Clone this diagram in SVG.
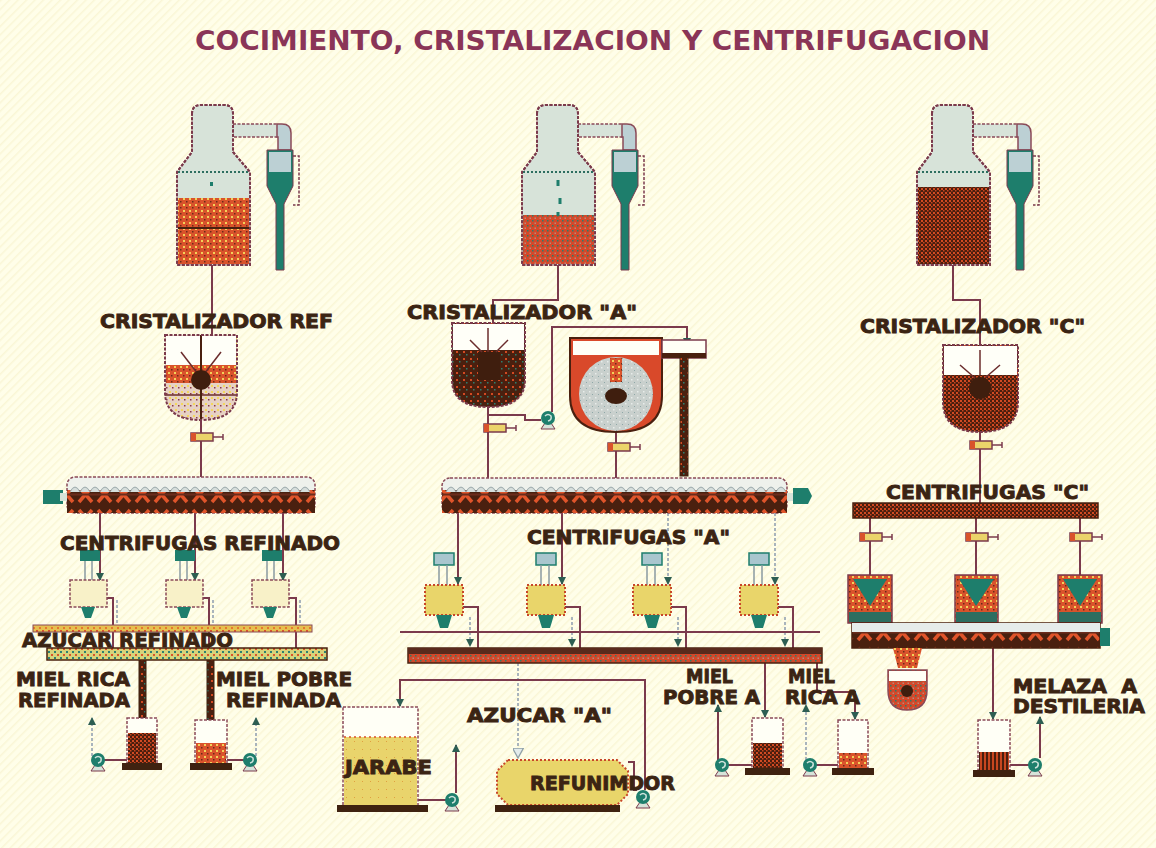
<svg xmlns="http://www.w3.org/2000/svg" width="1156" height="848" viewBox="0 0 1156 848">
  <style>
    .lbl { font-family: "DejaVu Sans", "Liberation Sans", sans-serif; font-weight: bold; font-size: 19px; fill: #3B2413; stroke: #3B2413; stroke-width: 0.9; }
    .title { font-family: "DejaVu Sans", "Liberation Sans", sans-serif; font-weight: bold; font-size: 27px; fill: #8A3557; }
    .pipe { fill: none; stroke: #7B3A4C; stroke-width: 2; }
    .pipe-light { fill: none; stroke: #A9B4BC; stroke-width: 2; stroke-dasharray: 3 2; }
    .shell { fill: #D7E3D9; stroke: #8A4A58; stroke-width: 2; stroke-dasharray: 3 1.5; }
    .outline { fill: none; stroke: #7B3A4C; stroke-width: 2; stroke-dasharray: 3 1.5; }
    .teal { fill: #1E7E6C; }
    .dark { fill: #44210F; }
    .base { fill: #3F2210; }
  </style>
  <defs>
    <pattern id="bg-hatch" width="6" height="6" patternUnits="userSpaceOnUse" patternTransform="rotate(45)">
      <rect width="6" height="6" fill="#FFFEE9"/>
      <rect width="1.5" height="6" fill="#FAF6D6"/>
    </pattern>
    <pattern id="p-orange-dots" width="6" height="6" patternUnits="userSpaceOnUse">
      <rect width="6" height="6" fill="#D9532B"/>
      <rect x="0" y="0" width="2" height="2" fill="#F2D25A"/>
      <rect x="3" y="3" width="1.5" height="1.5" fill="#6B2A18"/>
    </pattern>
    <pattern id="p-red-dots" width="5" height="5" patternUnits="userSpaceOnUse">
      <rect width="5" height="5" fill="#D4482A"/>
      <rect x="0" y="0" width="1.5" height="1.5" fill="#2F7B6A"/>
      <rect x="2.5" y="2.5" width="1.5" height="1.5" fill="#B58A7A"/>
    </pattern>
    <pattern id="p-dark-check" width="4" height="4" patternUnits="userSpaceOnUse">
      <rect width="4" height="4" fill="#4A1E0E"/>
      <rect x="0" y="0" width="2" height="2" fill="#D24A22"/>
      <rect x="2" y="2" width="1.5" height="1.5" fill="#C8461F"/>
    </pattern>
    <pattern id="p-brown-dots" width="7" height="7" patternUnits="userSpaceOnUse">
      <rect width="7" height="7" fill="#4A200F"/>
      <rect x="1" y="1" width="2" height="2" fill="#D24A22"/>
      <rect x="4" y="4" width="1.5" height="1.5" fill="#2D8070"/>
    </pattern>
    <pattern id="p-light-dots" width="6" height="6" patternUnits="userSpaceOnUse">
      <rect width="6" height="6" fill="#C9D0CD"/>
      <rect x="1" y="1" width="1.5" height="1.5" fill="#E8ECEA"/>
      <rect x="4" y="4" width="1" height="1" fill="#8FA8A8"/>
    </pattern>
    <pattern id="p-cream-dots" width="6" height="6" patternUnits="userSpaceOnUse">
      <rect width="6" height="6" fill="#E7D2C4"/>
      <rect x="1" y="1" width="2" height="2" fill="#F3D75C"/>
      <rect x="4" y="3" width="1.5" height="1.5" fill="#8A3A4A"/>
    </pattern>
    <pattern id="p-mixer" width="19" height="23" patternUnits="userSpaceOnUse">
      <rect width="19" height="23" fill="#4A200F"/>
      <path d="M3,4 L9.5,11.5 L3,19 M16,4 L9.5,11.5 L16,19" stroke="#E0542A" stroke-width="3.5" fill="none"/>
      <rect x="0" y="10.5" width="19" height="2" fill="#6B2C1C"/>
    </pattern>
    <pattern id="p-belt-y" width="6" height="7" patternUnits="userSpaceOnUse">
      <rect width="6" height="7" fill="#E6C050"/>
      <rect x="0" y="0" width="2" height="2" fill="#D9532B"/>
      <rect x="3" y="4" width="2" height="2" fill="#E6782E"/>
    </pattern>
    <pattern id="p-belt-g" width="6" height="6" patternUnits="userSpaceOnUse">
      <rect width="6" height="6" fill="#D8D27A"/>
      <rect x="0" y="3" width="2" height="2" fill="#2D8070"/>
      <rect x="3" y="0" width="2" height="2" fill="#D9532B"/>
    </pattern>
    <pattern id="p-stripes" width="4" height="6" patternUnits="userSpaceOnUse">
      <rect width="4" height="6" fill="#4A1E0E"/>
      <rect x="0" y="0" width="2" height="6" fill="#C8461F"/>
    </pattern>
    <pattern id="p-yellow" width="8" height="8" patternUnits="userSpaceOnUse">
      <rect width="8" height="8" fill="#E9D46C"/>
      <rect x="2" y="5" width="1" height="1" fill="#E0A040"/>
    </pattern>
    <marker id="arr" viewBox="0 0 8 8" markerWidth="8" markerHeight="8" refX="7" refY="4" orient="auto" markerUnits="userSpaceOnUse">
      <path d="M0,0 L8,4 L0,8 Z" fill="#2D5E52"/>
    </marker>
    <marker id="arr-hollow" viewBox="0 0 10 10" markerWidth="11" markerHeight="11" refX="9" refY="5" orient="auto" markerUnits="userSpaceOnUse">
      <path d="M0,0 L9,5 L0,10 Z" fill="#E4ECEC" stroke="#8FA0A8" stroke-width="1.2"/>
    </marker>
    <!-- reusable pump: teal volute on a small stand -->
    <g id="pump">
      <path d="M-7,11 L7,11 L3,5 L-3,5 Z" fill="#D7E3D9" stroke="#7B3A4C" stroke-width="1"/>
      <circle r="7" fill="#1E7E6C"/>
      <path d="M-3,-2 Q0,-5 3,-2 Q4,2 0,3" fill="none" stroke="#CFE3DC" stroke-width="1.5"/>
    </g>
    <!-- reusable in-line valve with handle -->
    <g id="valve">
      <rect x="-12" y="-4" width="22" height="8" fill="#EBD46A" stroke="#7B3A4C" stroke-width="1.5"/>
      <rect x="-12" y="-4" width="5" height="8" fill="#D9532B"/>
      <line x1="10" y1="0" x2="20" y2="0" stroke="#7B3A4C" stroke-width="1.5"/>
      <line x1="20" y1="-3" x2="20" y2="3" stroke="#7B3A4C" stroke-width="1.5"/>
    </g>
    <!-- vacuum pan shell with condenser and cyclone separator -->
    <path id="pan-shape" d="M15,114 Q15,105 24,105 L47,105 Q56,105 56,114 L56,152 L73,172 L73,265 L0,265 L0,172 L15,152 Z"/>
    <g id="pan-cyclone">
      <rect x="56" y="124" width="45" height="13" fill="#D7E3D9" stroke="#8A4A58" stroke-width="1.5" stroke-dasharray="3 1.5"/>
      <path d="M100,124 L105,124 Q114,124 114,133 L114,150 L101,150 L101,137 L100,137 Z" fill="#BCD0D4" stroke="#8A4A58" stroke-width="1.5"/>
      <path d="M90,150 L116,150 L116,186 L107,204 L107,270 L99,270 L99,204 L90,186 Z" fill="#1E7E6C" stroke="#7B3A4C" stroke-width="1"/>
      <rect x="92" y="152" width="22" height="20" fill="#BCD0D4"/>
      <polyline points="116,156 122,156 122,205 116,205" fill="none" stroke="#7B3A4C" stroke-width="1.5" stroke-dasharray="3 1.5"/>
    </g>
  </defs>

  <rect width="1156" height="848" fill="url(#bg-hatch)"/>

  <text class="title" x="195" y="50" textLength="795" lengthAdjust="spacingAndGlyphs">COCIMIENTO, CRISTALIZACION Y CENTRIFUGACION</text>

  <!-- ===== connectors ===== -->
  <g id="connectors">
    <!-- pan discharges -->
    <polyline class="pipe" points="212,265 212,335"/>
    <polyline class="pipe" points="558,265 558,300 493,300 493,323"/>
    <polyline class="pipe" points="953,263 953,300 980,300 980,345"/>
    <!-- crystallizer discharges to mixers -->
    <polyline class="pipe" points="201,420 201,477"/>
    <polyline class="pipe" points="488,407 488,478"/>
    <polyline class="pipe" points="616,432 616,478"/>
    <polyline class="pipe" points="980,432 980,503"/>
    <!-- crystallizer A transfer pump loop -->
    <polyline class="pipe" points="488,415 525,415 525,420 541,420"/>
    <polyline class="pipe" points="552,412 552,327 687,327 687,345" marker-end="url(#arr)"/>
    <!-- REF mixer feeds to centrifuges -->
    <line class="pipe" x1="100" y1="513" x2="100" y2="580" marker-end="url(#arr)"/>
    <line class="pipe" x1="195" y1="513" x2="195" y2="580" marker-end="url(#arr)"/>
    <line class="pipe" x1="283" y1="513" x2="283" y2="580" marker-end="url(#arr)"/>
    <!-- REF centrifuge discharges -->
    <polyline class="pipe" points="107,598 113,598 113,648"/>
    <polyline class="pipe-light" points="117,600 117,625"/>
    <polyline class="pipe" points="203,598 209,598 209,648"/>
    <polyline class="pipe-light" points="213,600 213,625"/>
    <polyline class="pipe" points="289,598 296,598 296,648"/>
    <polyline class="pipe-light" points="300,600 300,625"/>
    <!-- REF honey drops to tanks -->
    <rect x="139" y="660" width="7" height="76" fill="url(#p-brown-dots)" stroke="#3F2210" stroke-width="1"/>
    <rect x="207" y="660" width="7" height="84" fill="url(#p-brown-dots)" stroke="#3F2210" stroke-width="1"/>
    <!-- REF tank pumps -->
    <line class="pipe" x1="127" y1="760" x2="104" y2="760"/>
    <polyline class="pipe-light" points="92,756 92,718" marker-end="url(#arr)"/>
    <line class="pipe" x1="227" y1="760" x2="244" y2="760"/>
    <polyline class="pipe-light" points="256,756 256,718" marker-end="url(#arr)"/>

    <!-- A mixer feeds to centrifuges -->
    <line class="pipe" x1="458" y1="513" x2="458" y2="584" marker-end="url(#arr)"/>
    <line class="pipe" x1="562" y1="513" x2="562" y2="584" marker-end="url(#arr)"/>
    <line class="pipe-light" x1="668" y1="513" x2="668" y2="584" marker-end="url(#arr)"/>
    <line class="pipe-light" x1="775" y1="513" x2="775" y2="584" marker-end="url(#arr)"/>
    <!-- A centrifuge discharges -->
    <polyline class="pipe" points="463,607 478,607 478,648"/>
    <line class="pipe-light" x1="470" y1="617" x2="470" y2="646" marker-end="url(#arr)"/>
    <polyline class="pipe" points="565,607 580,607 580,648"/>
    <line class="pipe-light" x1="572" y1="617" x2="572" y2="646" marker-end="url(#arr)"/>
    <polyline class="pipe" points="671,607 686,607 686,648"/>
    <line class="pipe-light" x1="678" y1="617" x2="678" y2="646" marker-end="url(#arr)"/>
    <polyline class="pipe" points="778,607 793,607 793,648"/>
    <line class="pipe-light" x1="785" y1="617" x2="785" y2="646" marker-end="url(#arr)"/>
    <line class="pipe" x1="400" y1="632" x2="820" y2="632"/>
    <!-- A sugar to melter -->
    <line class="pipe-light" x1="518" y1="663" x2="518" y2="758" marker-end="url(#arr-hollow)"/>
    <!-- melter pump to syrup tank -->
    <polyline class="pipe" points="628,762 634,762 634,790 637,790"/>
    <polyline class="pipe" points="645,790 645,680 400,680 400,706" marker-end="url(#arr)"/>
    <!-- syrup pump -->
    <line class="pipe" x1="418" y1="800" x2="446" y2="800"/>
    <polyline class="pipe" points="456,793 456,745" marker-end="url(#arr)"/>
    <!-- A honeys -->
    <line class="pipe" x1="765" y1="663" x2="765" y2="717" marker-end="url(#arr)"/>
    <polyline class="pipe" points="817,663 817,692 855,692 855,719" marker-end="url(#arr)"/>
    <line class="pipe" x1="752" y1="765" x2="728" y2="765"/>
    <polyline class="pipe" points="718,760 718,705" marker-end="url(#arr)"/>
    <line class="pipe" x1="838" y1="765" x2="816" y2="765"/>
    <polyline class="pipe-light" points="806,760 806,705" marker-end="url(#arr)"/>

    <!-- C header to centrifuges -->
    <line class="pipe" x1="870" y1="518" x2="870" y2="576"/>
    <line class="pipe" x1="976" y1="518" x2="976" y2="576"/>
    <line class="pipe" x1="1080" y1="518" x2="1080" y2="576"/>
    <!-- molasses -->
    <line class="pipe" x1="993" y1="648" x2="993" y2="719" marker-end="url(#arr)"/>
    <line class="pipe" x1="1010" y1="765" x2="1029" y2="765"/>
    <polyline class="pipe" points="1040,758 1040,717" marker-end="url(#arr)"/>
  </g>

  <!-- ===== vacuum pans ===== -->
  <g id="pan-ref" transform="translate(177,0)">
    <use href="#pan-cyclone"/>
    <use href="#pan-shape" class="shell"/>
    <rect x="1" y="198" width="71" height="66" fill="url(#p-orange-dots)"/>
    <line x1="1" y1="228" x2="72" y2="228" stroke="#4A200F" stroke-width="2"/>
    <line x1="1" y1="172" x2="72" y2="172" stroke="#2D6E60" stroke-width="2" stroke-dasharray="2 2"/>
    <rect x="33" y="182" width="3" height="4" fill="#1E7E6C"/>
    <use href="#pan-shape" class="outline"/>
  </g>
  <g id="pan-a" transform="translate(522,0)">
    <use href="#pan-cyclone"/>
    <use href="#pan-shape" class="shell"/>
    <rect x="1" y="215" width="71" height="49" fill="url(#p-red-dots)"/>
    <line x1="1" y1="172" x2="72" y2="172" stroke="#2D6E60" stroke-width="2" stroke-dasharray="2 2"/>
    <path d="M36,180 l0,6 M38,198 l0,6 M36,212 l0,4" stroke="#1E7E6C" stroke-width="3"/>
    <use href="#pan-shape" class="outline"/>
  </g>
  <g id="pan-c" transform="translate(917,0)">
    <use href="#pan-cyclone"/>
    <use href="#pan-shape" class="shell"/>
    <rect x="1" y="187" width="71" height="77" fill="url(#p-dark-check)"/>
    <line x1="1" y1="172" x2="72" y2="172" stroke="#2D6E60" stroke-width="2" stroke-dasharray="2 2"/>
    <use href="#pan-shape" class="outline"/>
  </g>

  <!-- ===== crystallizers ===== -->
  <g id="cristalizador-ref">
    <path d="M165,335 L237,335 L237,392 Q237,420 201,420 Q165,420 165,392 Z" fill="url(#p-cream-dots)"/>
    <rect x="166" y="336" width="70" height="29" fill="#FFFFF8"/>
    <rect x="166" y="365" width="70" height="18" fill="url(#p-orange-dots)"/>
    <line x1="165" y1="395" x2="237" y2="395" stroke="#6B2C2C" stroke-width="1.5"/>
    <line x1="201" y1="335" x2="201" y2="420" stroke="#4A200F" stroke-width="2"/>
    <line x1="181" y1="352" x2="201" y2="378" stroke="#6B2C2C" stroke-width="1.5"/>
    <line x1="221" y1="352" x2="201" y2="378" stroke="#6B2C2C" stroke-width="1.5"/>
    <circle cx="201" cy="380" r="10" fill="#3F1E0E"/>
    <path d="M165,335 L237,335 L237,392 Q237,420 201,420 Q165,420 165,392 Z" class="outline"/>
    <use href="#valve" x="203" y="437"/>
  </g>
  <text class="lbl" x="100" y="328" textLength="233" lengthAdjust="spacingAndGlyphs">CRISTALIZADOR REF</text>

  <g id="cristalizador-a">
    <path d="M452,323 L525,323 L525,380 Q525,407 488,407 Q452,407 452,380 Z" fill="url(#p-brown-dots)"/>
    <rect x="453" y="324" width="71" height="26" fill="#FFFFF8"/>
    <rect x="478" y="352" width="22" height="28" fill="#3F1E0E"/>
    <line x1="488" y1="328" x2="488" y2="352" stroke="#6B2C2C" stroke-width="1.5"/>
    <line x1="470" y1="340" x2="482" y2="352" stroke="#6B2C2C" stroke-width="1.5"/>
    <line x1="508" y1="340" x2="496" y2="352" stroke="#6B2C2C" stroke-width="1.5"/>
    <path d="M452,323 L525,323 L525,380 Q525,407 488,407 Q452,407 452,380 Z" class="outline"/>
    <use href="#valve" x="496" y="428"/>
    <use href="#pump" x="548" y="418"/>
  </g>
  <text class="lbl" x="407" y="319" textLength="230" lengthAdjust="spacingAndGlyphs">CRISTALIZADOR "A"</text>

  <g id="receptor-a">
    <path d="M570,338 L662,338 L662,396 Q662,432 616,432 Q570,432 570,396 Z" fill="#D9492A" stroke="#4A200F" stroke-width="2"/>
    <rect x="573" y="341" width="86" height="14" fill="#FFFFF6"/>
    <circle cx="616" cy="394" r="37" fill="url(#p-light-dots)"/>
    <rect x="610" y="358" width="12" height="24" fill="url(#p-orange-dots)"/>
    <ellipse cx="616" cy="396" rx="11" ry="8" fill="#3F1E0E"/>
    <rect x="662" y="340" width="44" height="18" fill="#FFFFF6" stroke="#7B3A4C" stroke-width="1.5"/>
    <rect x="662" y="353" width="44" height="5" fill="#4A200F"/>
    <rect x="680" y="356" width="8" height="120" fill="url(#p-brown-dots)" stroke="#3F2210" stroke-width="1"/>
    <use href="#valve" x="620" y="447"/>
  </g>

  <g id="cristalizador-c">
    <path d="M943,345 L1018,345 L1018,402 Q1018,432 980,432 Q943,432 943,402 Z" fill="url(#p-dark-check)"/>
    <rect x="944" y="346" width="73" height="29" fill="#FFFFF8"/>
    <line x1="980" y1="350" x2="980" y2="375" stroke="#6B2C2C" stroke-width="1.5"/>
    <line x1="960" y1="365" x2="975" y2="378" stroke="#6B2C2C" stroke-width="1.5"/>
    <line x1="1000" y1="365" x2="985" y2="378" stroke="#6B2C2C" stroke-width="1.5"/>
    <circle cx="980" cy="388" r="11" fill="#3F1E0E"/>
    <path d="M943,345 L1018,345 L1018,402 Q1018,432 980,432 Q943,432 943,402 Z" class="outline"/>
    <use href="#valve" x="982" y="445"/>
  </g>
  <text class="lbl" x="860" y="333" textLength="225" lengthAdjust="spacingAndGlyphs">CRISTALIZADOR "C"</text>

  <!-- ===== mixers (seed troughs) ===== -->
  <g id="mezclador-ref">
    <rect x="67" y="477" width="248" height="36" rx="8" fill="#EEF1EC" stroke="#8A4A58" stroke-width="1.5" stroke-dasharray="3 1.5"/>
    <rect x="67" y="490" width="248" height="23" fill="url(#p-mixer)"/>
    <path d="M70,492 q5,-10 10,0 q5,-10 10,0 q5,-10 10,0 q5,-10 10,0 q5,-10 10,0 q5,-10 10,0 q5,-10 10,0 q5,-10 10,0 q5,-10 10,0 q5,-10 10,0 q5,-10 10,0 q5,-10 10,0 q5,-10 10,0 q5,-10 10,0 q5,-10 10,0 q5,-10 10,0 q5,-10 10,0 q5,-10 10,0 q5,-10 10,0 q5,-10 10,0 q5,-10 10,0 q5,-10 10,0 q5,-10 10,0 q5,-10 10,0" fill="#D6DEDC" stroke="#9AA8AA" stroke-width="1"/>
    <rect x="43" y="490" width="20" height="14" fill="#1E7E6C"/>
    <rect x="60" y="493" width="7" height="8" fill="#D7E3D9"/>
  </g>
  <g id="mezclador-a">
    <rect x="442" y="478" width="345" height="35" rx="8" fill="#EEF1EC" stroke="#8A4A58" stroke-width="1.5" stroke-dasharray="3 1.5"/>
    <rect x="442" y="490" width="345" height="23" fill="url(#p-mixer)"/>
    <path d="M446,492 q5,-10 10,0 q5,-10 10,0 q5,-10 10,0 q5,-10 10,0 q5,-10 10,0 q5,-10 10,0 q5,-10 10,0 q5,-10 10,0 q5,-10 10,0 q5,-10 10,0 q5,-10 10,0 q5,-10 10,0 q5,-10 10,0 q5,-10 10,0 q5,-10 10,0 q5,-10 10,0 q5,-10 10,0 q5,-10 10,0 q5,-10 10,0 q5,-10 10,0 q5,-10 10,0 q5,-10 10,0 q5,-10 10,0 q5,-10 10,0 q5,-10 10,0 q5,-10 10,0 q5,-10 10,0 q5,-10 10,0 q5,-10 10,0 q5,-10 10,0 q5,-10 10,0 q5,-10 10,0 q5,-10 10,0 q5,-10 10,0" fill="#D6DEDC" stroke="#9AA8AA" stroke-width="1"/>
    <rect x="787" y="493" width="7" height="8" fill="#D7E3D9"/>
    <path d="M793,488 L808,488 L812,496 L808,504 L793,504 Z" fill="#1E7E6C"/>
  </g>
  <g id="cabezal-c">
    <rect x="853" y="503" width="245" height="15" fill="url(#p-dark-check)" stroke="#4A200F" stroke-width="1.5"/>
  </g>

  <!-- ===== refined centrifuges ===== -->
  <g id="centrifugas-ref">
    <g id="centrifuga-ref-1">
      <rect x="80" y="550" width="20" height="11" fill="#1E7E6C"/>
      <line x1="85" y1="561" x2="85" y2="580" stroke="#8A9AA0" stroke-width="1.5"/>
      <line x1="92" y1="561" x2="92" y2="580" stroke="#8A9AA0" stroke-width="1.5"/>
      <rect x="70" y="580" width="37" height="27" fill="#F8F1C8" stroke="#8A4A58" stroke-width="1.5" stroke-dasharray="3 1.5"/>
      <path d="M81,607 L95,607 L91,618 L85,618 Z" fill="#1E7E6C"/>
    </g>
    <g id="centrifuga-ref-2">
      <rect x="175" y="550" width="20" height="11" fill="#1E7E6C"/>
      <line x1="180" y1="561" x2="180" y2="580" stroke="#8A9AA0" stroke-width="1.5"/>
      <line x1="187" y1="561" x2="187" y2="580" stroke="#8A9AA0" stroke-width="1.5"/>
      <rect x="166" y="580" width="37" height="27" fill="#F8F1C8" stroke="#8A4A58" stroke-width="1.5" stroke-dasharray="3 1.5"/>
      <path d="M177,607 L191,607 L187,618 L181,618 Z" fill="#1E7E6C"/>
    </g>
    <g id="centrifuga-ref-3">
      <rect x="262" y="550" width="20" height="11" fill="#1E7E6C"/>
      <line x1="267" y1="561" x2="267" y2="580" stroke="#8A9AA0" stroke-width="1.5"/>
      <line x1="274" y1="561" x2="274" y2="580" stroke="#8A9AA0" stroke-width="1.5"/>
      <rect x="252" y="580" width="37" height="27" fill="#F8F1C8" stroke="#8A4A58" stroke-width="1.5" stroke-dasharray="3 1.5"/>
      <path d="M263,607 L277,607 L273,618 L267,618 Z" fill="#1E7E6C"/>
    </g>
  </g>
  <text class="lbl" x="60" y="550" textLength="280" lengthAdjust="spacingAndGlyphs">CENTRIFUGAS REFINADO</text>

  <!-- refined sugar and honey conveyors -->
  <g id="transportador-ref">
    <rect x="33" y="625" width="279" height="7" fill="url(#p-belt-y)" stroke="#8A4A58" stroke-width="1"/>
    <rect x="47" y="648" width="280" height="12" fill="url(#p-belt-g)" stroke="#4A200F" stroke-width="1.5"/>
  </g>
  <text class="lbl" x="22" y="647" textLength="211" lengthAdjust="spacingAndGlyphs">AZUCAR REFINADO</text>

  <!-- refined honey tanks -->
  <g id="tanque-miel-rica-ref">
    <rect x="127" y="718" width="30" height="45" fill="#FFFFF6" stroke="#8A4A58" stroke-width="1.5" stroke-dasharray="3 1.5"/>
    <rect x="128" y="733" width="28" height="30" fill="url(#p-dark-check)"/>
    <rect x="122" y="763" width="40" height="7" class="base"/>
    <use href="#pump" x="98" y="760"/>
  </g>
  <g id="tanque-miel-pobre-ref">
    <rect x="195" y="720" width="32" height="43" fill="#FFFFF6" stroke="#8A4A58" stroke-width="1.5" stroke-dasharray="3 1.5"/>
    <rect x="196" y="743" width="30" height="20" fill="url(#p-orange-dots)"/>
    <rect x="190" y="763" width="42" height="7" class="base"/>
    <use href="#pump" x="250" y="760"/>
  </g>
  <text class="lbl" x="16" y="686" textLength="114" lengthAdjust="spacingAndGlyphs">MIEL RICA</text>
  <text class="lbl" x="18" y="707" textLength="112" lengthAdjust="spacingAndGlyphs">REFINADA</text>
  <text class="lbl" x="216" y="686" textLength="136" lengthAdjust="spacingAndGlyphs">MIEL POBRE</text>
  <text class="lbl" x="226" y="707" textLength="115" lengthAdjust="spacingAndGlyphs">REFINADA</text>

  <!-- ===== A centrifuges ===== -->
  <g id="centrifugas-a">
    <g id="centrifuga-a-1">
      <rect x="434" y="553" width="20" height="12" fill="#A9C6CE" stroke="#1E7E6C" stroke-width="1.5"/>
      <line x1="439" y1="565" x2="439" y2="585" stroke="#8A9AA0" stroke-width="1.5"/>
      <line x1="447" y1="565" x2="447" y2="585" stroke="#8A9AA0" stroke-width="1.5"/>
      <rect x="425" y="585" width="38" height="30" fill="#E9D56A" stroke="#C8472A" stroke-width="2" stroke-dasharray="2 2"/>
      <path d="M436,615 L452,615 L448,628 L440,628 Z" fill="#1E7E6C"/>
    </g>
    <g id="centrifuga-a-2">
      <rect x="536" y="553" width="20" height="12" fill="#A9C6CE" stroke="#1E7E6C" stroke-width="1.5"/>
      <line x1="541" y1="565" x2="541" y2="585" stroke="#8A9AA0" stroke-width="1.5"/>
      <line x1="549" y1="565" x2="549" y2="585" stroke="#8A9AA0" stroke-width="1.5"/>
      <rect x="527" y="585" width="38" height="30" fill="#E9D56A" stroke="#C8472A" stroke-width="2" stroke-dasharray="2 2"/>
      <path d="M538,615 L554,615 L550,628 L542,628 Z" fill="#1E7E6C"/>
    </g>
    <g id="centrifuga-a-3">
      <rect x="642" y="553" width="20" height="12" fill="#A9C6CE" stroke="#1E7E6C" stroke-width="1.5"/>
      <line x1="647" y1="565" x2="647" y2="585" stroke="#8A9AA0" stroke-width="1.5"/>
      <line x1="655" y1="565" x2="655" y2="585" stroke="#8A9AA0" stroke-width="1.5"/>
      <rect x="633" y="585" width="38" height="30" fill="#E9D56A" stroke="#C8472A" stroke-width="2" stroke-dasharray="2 2"/>
      <path d="M644,615 L660,615 L656,628 L648,628 Z" fill="#1E7E6C"/>
    </g>
    <g id="centrifuga-a-4">
      <rect x="749" y="553" width="20" height="12" fill="#A9C6CE" stroke="#1E7E6C" stroke-width="1.5"/>
      <line x1="754" y1="565" x2="754" y2="585" stroke="#8A9AA0" stroke-width="1.5"/>
      <line x1="762" y1="565" x2="762" y2="585" stroke="#8A9AA0" stroke-width="1.5"/>
      <rect x="740" y="585" width="38" height="30" fill="#E9D56A" stroke="#C8472A" stroke-width="2" stroke-dasharray="2 2"/>
      <path d="M751,615 L767,615 L763,628 L755,628 Z" fill="#1E7E6C"/>
    </g>
  </g>
  <text class="lbl" x="527" y="544" textLength="203" lengthAdjust="spacingAndGlyphs">CENTRIFUGAS "A"</text>

  <g id="transportador-a">
    <rect x="408" y="648" width="414" height="15" fill="url(#p-red-dots)" stroke="#4A200F" stroke-width="1.5"/>
    <rect x="408" y="648" width="414" height="6" fill="#5A2A1C"/>
  </g>

  <!-- syrup tank and melter -->
  <g id="tanque-jarabe">
    <rect x="343" y="707" width="75" height="100" fill="#FFFFF6" stroke="#8A4A58" stroke-width="1.5" stroke-dasharray="3 1.5"/>
    <rect x="344" y="737" width="73" height="69" fill="url(#p-yellow)"/>
    <line x1="344" y1="737" x2="417" y2="737" stroke="#D9532B" stroke-width="1.5" stroke-dasharray="2 3"/>
    <rect x="337" y="805" width="91" height="7" class="base"/>
    <use href="#pump" x="452" y="800"/>
  </g>
  <text class="lbl" x="345" y="774" textLength="87" lengthAdjust="spacingAndGlyphs">JARABE</text>

  <g id="refundidor">
    <path d="M508,760 L617,760 L628,771 L628,794 L617,805 L508,805 L497,794 L497,771 Z" fill="#E9D56A" stroke="#C8472A" stroke-width="2" stroke-dasharray="2 2"/>
    <rect x="495" y="805" width="125" height="7" class="base"/>
    <use href="#pump" x="643" y="797"/>
  </g>
  <text class="lbl" x="530" y="790" textLength="145" lengthAdjust="spacingAndGlyphs">REFUNIMDOR</text>
  <text class="lbl" x="467" y="722" textLength="145" lengthAdjust="spacingAndGlyphs">AZUCAR "A"</text>

  <!-- A honey tanks -->
  <g id="tanque-miel-pobre-a">
    <rect x="752" y="718" width="31" height="50" fill="#FFFFF6" stroke="#8A4A58" stroke-width="1.5" stroke-dasharray="3 1.5"/>
    <rect x="753" y="743" width="29" height="25" fill="url(#p-dark-check)"/>
    <rect x="745" y="768" width="45" height="7" class="base"/>
    <use href="#pump" x="722" y="765"/>
  </g>
  <g id="tanque-miel-rica-a">
    <rect x="838" y="720" width="30" height="48" fill="#FFFFF6" stroke="#8A4A58" stroke-width="1.5" stroke-dasharray="3 1.5"/>
    <rect x="839" y="753" width="28" height="15" fill="url(#p-orange-dots)"/>
    <rect x="832" y="768" width="42" height="7" class="base"/>
    <use href="#pump" x="810" y="765"/>
  </g>
  <text class="lbl" x="686" y="683" textLength="47" lengthAdjust="spacingAndGlyphs">MIEL</text>
  <text class="lbl" x="663" y="704" textLength="97" lengthAdjust="spacingAndGlyphs">POBRE A</text>
  <text class="lbl" x="788" y="683" textLength="47" lengthAdjust="spacingAndGlyphs">MIEL</text>
  <text class="lbl" x="785" y="704" textLength="75" lengthAdjust="spacingAndGlyphs">RICA A</text>

  <!-- ===== C centrifuges ===== -->
  <g id="centrifugas-c">
    <use href="#valve" x="872" y="537"/>
    <use href="#valve" x="978" y="537"/>
    <use href="#valve" x="1082" y="537"/>
    <g id="centrifuga-c-1">
      <rect x="848" y="575" width="44" height="48" fill="url(#p-orange-dots)" stroke="#7B3A4C" stroke-width="1.5"/>
      <path d="M853,579 L887,579 L870,606 Z" fill="#1E7E6C"/>
      <rect x="849" y="612" width="42" height="10" fill="#2D6E60"/>
    </g>
    <g id="centrifuga-c-2">
      <rect x="955" y="575" width="43" height="48" fill="url(#p-orange-dots)" stroke="#7B3A4C" stroke-width="1.5"/>
      <path d="M959,579 L994,579 L976,606 Z" fill="#1E7E6C"/>
      <rect x="956" y="612" width="41" height="10" fill="#2D6E60"/>
    </g>
    <g id="centrifuga-c-3">
      <rect x="1058" y="575" width="44" height="48" fill="url(#p-orange-dots)" stroke="#7B3A4C" stroke-width="1.5"/>
      <path d="M1063,579 L1097,579 L1080,606 Z" fill="#1E7E6C"/>
      <rect x="1059" y="612" width="42" height="10" fill="#2D6E60"/>
    </g>
  </g>
  <text class="lbl" x="886" y="499" textLength="203" lengthAdjust="spacingAndGlyphs">CENTRIFUGAS "C"</text>

  <g id="transportador-c">
    <rect x="852" y="623" width="248" height="25" fill="url(#p-mixer)" stroke="#4A200F" stroke-width="1.5"/>
    <rect x="852" y="623" width="248" height="9" fill="#E6ECEA"/>
    <rect x="1100" y="628" width="10" height="18" fill="#1E7E6C"/>
  </g>

  <g id="mezclador-c">
    <path d="M893,648 L922,648 L917,668 L898,668 Z" fill="url(#p-orange-dots)"/>
    <path d="M888,670 L927,670 L927,690 Q927,710 907,710 Q888,710 888,690 Z" fill="url(#p-red-dots)" stroke="#8A4A58" stroke-width="1.5"/>
    <rect x="889" y="671" width="37" height="10" fill="#FFFFF6"/>
    <circle cx="907" cy="691" r="6" fill="#3F1E0E"/>
  </g>

  <g id="tanque-melaza">
    <rect x="978" y="720" width="32" height="50" fill="#FFFFF6" stroke="#8A4A58" stroke-width="1.5" stroke-dasharray="3 1.5"/>
    <rect x="979" y="752" width="30" height="18" fill="url(#p-stripes)"/>
    <rect x="973" y="770" width="42" height="7" class="base"/>
    <use href="#pump" x="1035" y="765"/>
  </g>
  <text class="lbl" x="1013" y="693" textLength="124" lengthAdjust="spacingAndGlyphs" xml:space="preserve">MELAZA  A</text>
  <text class="lbl" x="1013" y="713" textLength="132" lengthAdjust="spacingAndGlyphs">DESTILERIA</text>
</svg>
